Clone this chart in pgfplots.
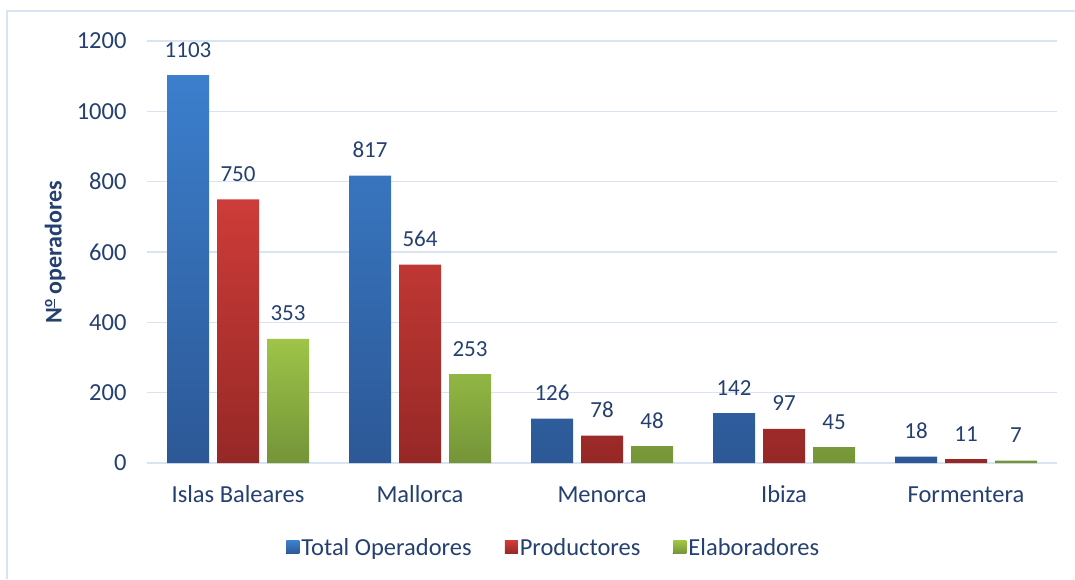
\documentclass[border=0pt]{standalone}
\usepackage{fontspec}
\setmainfont{Carlito}
\usepackage{pgfplots}
\pgfplotsset{compat=1.18}
\definecolor{txt}{RGB}{37,64,112}
\definecolor{gridc}{RGB}{217,228,243}
\definecolor{bluet}{RGB}{60,127,205}
\definecolor{blueb}{RGB}{44,88,150}
\definecolor{redt}{RGB}{205,60,56}
\definecolor{redb}{RGB}{150,40,38}
\definecolor{greent}{RGB}{158,196,72}
\definecolor{greenb}{RGB}{116,148,56}
\newcommand{\ordo}{{\fontsize{15}{15}\selectfont\raisebox{0.62em}{\underline{\smash{o}}}}}
\begin{document}
\begin{tikzpicture}
\useasboundingbox (0,0) rectangle (1075pt,579pt);
\draw[gridc, line width=2pt] (7pt,0) -- (7pt,568pt) -- (1075pt,568pt);
\begin{axis}[
  at={(147pt,116pt)}, anchor=south west,
  scale only axis, width=910pt, height=422pt,
  xmin=-0.5, xmax=4.5, ymin=0, ymax=1200,
  ytick={0,200,...,1200},
  xtick={0,1,2,3,4},
  xticklabels={Islas Baleares,Mallorca,Menorca,Ibiza,Formentera},
  major tick length=0pt,
  axis line style={draw=none},
  ymajorgrids, grid style={gridc, line width=1.6pt},
  /pgf/number format/assume math mode=true,
  /pgf/number format/set thousands separator={},
  ticklabel style={font=\fontsize{24.5}{28}\selectfont, text=txt},
  yticklabel style={xshift=-17pt},
  xticklabel style={anchor=base, yshift=-39pt},
  ylabel={\textbf{N\ordo\ operadores}},
  ylabel style={at={(axis description cs:-0.101,0.5)}, anchor=center, font=\fontsize{24}{28}\selectfont, text=txt},
  ybar=8pt, bar width=42pt,
  nodes near coords,
  every node near coord/.append style={font=\fontsize{23}{27}\selectfont, text=txt, anchor=base, yshift=18pt},
  legend columns=3,
  legend style={draw=none, fill=none, at={(axis description cs:0.447,-0.2)}, anchor=center,
    font=\fontsize{24.5}{28}\selectfont, text=txt,
    /tikz/every even column/.append style={column sep=31pt}},
  legend image code/.code={\fill[#1] (-3pt,-6.5pt) rectangle (10pt,6.5pt);},
  legend cell align=left,
]
\addplot[draw=none, top color=bluet, bottom color=blueb] coordinates {(0,1103) (1,817) (2,126) (3,142) (4,18)};
\addplot[draw=none, top color=redt, bottom color=redb] coordinates {(0,750) (1,564) (2,78) (3,97) (4,11)};
\addplot[draw=none, top color=greent, bottom color=greenb] coordinates {(0,353) (1,253) (2,48) (3,45) (4,7)};
\legend{Total Operadores,Productores,Elaboradores}
\end{axis}
\end{tikzpicture}
\end{document}
